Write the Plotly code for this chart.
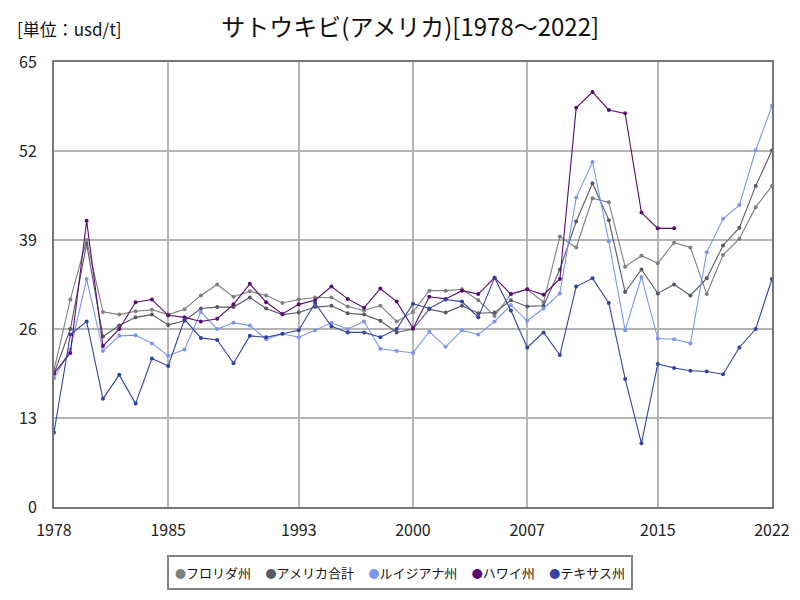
import plotly.graph_objects as go

years = list(range(1978, 2023))

florida = [20.0, 30.3, 39.0, 28.5, 28.1, 28.6, 28.8, 28.1, 28.9, 30.9,
           32.5, 30.7, 31.5, 30.9, 29.8, 30.3, 30.6, 30.6, 29.3, 28.7,
           29.4, 27.1, 28.5, 31.6, 31.6, 31.8, 30.2, 27.9, 31.1, 31.8,
           29.9, 39.5, 37.9, 45.1, 44.5, 35.1, 36.7, 35.6, 38.6, 37.9,
           31.1, 36.8, 39.2, 43.8, 46.9]
us_total = [19.5, 26.0, 38.4, 24.9, 26.5, 27.7, 28.1, 26.6, 27.2, 29.0,
            29.2, 29.2, 30.6, 29.0, 28.1, 28.4, 29.2, 29.4, 28.3, 28.1,
            27.2, 25.5, 26.0, 28.9, 28.4, 29.4, 28.3, 28.4, 30.2, 29.3,
            29.4, 34.7, 41.7, 47.3, 41.9, 31.4, 34.7, 31.2, 32.5, 30.9,
            33.4, 38.2, 40.8, 46.9, 52.1]
louisiana = [18.8, 23.0, 33.3, 22.8, 25.0, 25.1, 23.9, 22.1, 23.0, 28.5,
             26.0, 26.9, 26.5, 24.5, 25.3, 24.8, 25.8, 26.9, 26.0, 27.1,
             23.1, 22.8, 22.5, 25.6, 23.4, 25.8, 25.2, 27.1, 29.5, 27.2,
             29.0, 31.2, 45.2, 50.4, 38.8, 25.8, 33.6, 24.6, 24.5, 23.9,
             37.2, 42.1, 44.1, 52.1, 58.6]
hawaii = [19.5, 22.5, 41.8, 23.5, 26.0, 29.9, 30.3, 28.0, 27.7, 27.1,
          27.5, 29.6, 32.6, 29.9, 28.2, 29.6, 30.2, 32.2, 30.4, 29.1,
          31.9, 30.0, 26.1, 30.7, 30.4, 31.6, 31.1, 33.5, 31.1, 31.8,
          31.0, 33.3, 58.3, 60.6, 58.0, 57.5, 43.0, 40.7, 40.7, None,
          None, None, None, None, None]
texas = [10.9, 25.2, 27.1, 15.8, 19.3, 15.1, 21.7, 20.6, 27.4, 24.7,
         24.4, 21.0, 25.0, 24.8, 25.3, 25.8, 29.8, 26.4, 25.5, 25.5,
         24.8, 26.0, 29.7, 29.0, 30.3, 30.0, 27.7, 33.5, 28.7, 23.3,
         25.5, 22.2, 32.2, 33.4, 29.8, 18.7, 9.3, 20.9, 20.3, 19.9,
         19.8, 19.4, 23.3, 26.0, 33.3]

series = [
    ("フロリダ州", florida, "#7f7f7f"),
    ("アメリカ合計", us_total, "#585868"),
    ("ルイジアナ州", louisiana, "#7b96ee"),
    ("ハワイ州", hawaii, "#5b0c72"),
    ("テキサス州", texas, "#3242a4"),
]

x_ticks = [1978, 1985, 1993, 2000, 2007, 2015, 2022]
y_ticks = [0, 13, 26, 39, 52, 65]

font = "Noto Sans CJK JP"

fig = go.Figure()
for name, values, color in series:
    fig.add_trace(go.Scatter(
        x=years, y=values, name=name, mode="lines+markers",
        line=dict(color=color, width=1.1),
        marker=dict(color=color, size=4),
    ))

# 凡例: 枠付きの一行テキスト (丸 + 系列名)
legend_text = "&nbsp;" * 5
legend_text = legend_text.join(
    f"<span style='color:{c};font-size:11px'>●</span>{n}" for n, _, c in series
)

fig.update_layout(
    width=784, height=584,
    margin=dict(l=46, r=20, t=54, b=85, autoexpand=False),
    paper_bgcolor="white", plot_bgcolor="white",
    font=dict(family=font, color="#222222"),
    title=dict(text="サトウキビ(アメリカ)[1978～2022]", font=dict(size=24, color="#111111"),
               xref="container", x=0.513, xanchor="center",
               yref="container", y=0.966, yanchor="middle"),
    showlegend=False,
    annotations=[
        dict(text="[単位：usd/t]", xref="paper", yref="paper",
             x=-0.054, y=1.076, xanchor="left", yanchor="middle",
             showarrow=False, font=dict(size=17, color="#111111")),
        dict(text=legend_text, xref="paper", yref="paper",
             x=0.482, y=-0.148, xanchor="center", yanchor="middle",
             showarrow=False, font=dict(size=13, color="#111111"),
             bordercolor="#808080", borderwidth=2, borderpad=6,
             bgcolor="white"),
    ],
)
fig.update_xaxes(range=[1978, 2022], tickvals=x_ticks, ticks="",
                 showgrid=True, gridcolor="#b4b4b4", gridwidth=2,
                 showline=True, linecolor="#777777", linewidth=2, mirror=True,
                 tickfont=dict(size=16), ticklabelstandoff=8, zeroline=False)
fig.update_yaxes(range=[0, 65], tickvals=y_ticks, ticks="",
                 showgrid=True, gridcolor="#b4b4b4", gridwidth=2,
                 showline=True, linecolor="#777777", linewidth=2, mirror=True,
                 tickfont=dict(size=16), ticklabelstandoff=12, zeroline=False)

fig.write_html("out.html")
